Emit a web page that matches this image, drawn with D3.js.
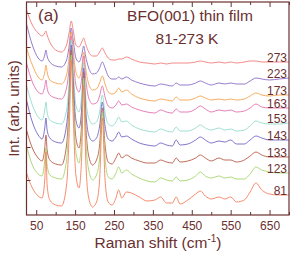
<!DOCTYPE html>
<html lang="en">
<head>
<meta charset="UTF-8">
<title>BFO(001) thin film Raman spectra</title>
<script src="https://d3js.org/d3.v7.min.js"></script>
<style>
  body { margin: 0; background: #fff; }
  svg text { font-family: 'Liberation Sans', Arial, sans-serif; fill: #6b2f2f; }
  .trace { fill: none; stroke-width: 0.9; stroke-linejoin: round; }
  .axis line { stroke: #6b2f2f; stroke-width: 1; }
  .axis path { display: none; }
  .axis text { font-size: 12px; }
</style>
</head>
<body>
<svg id="chart" width="291" height="257"></svg>
<script>
// Raman shift sample positions (cm-1), shared by every spectrum
const shift = [25, 40, 55, 65, 72, 75, 78, 85, 100, 115,
  128, 135, 140, 145, 152, 160, 167, 172, 177, 185,
  195, 205, 213, 220, 227, 235, 245, 255, 262, 270,
  282, 295, 315, 335, 355, 370, 385, 400, 410, 420,
  440, 460, 472, 485, 500, 520, 535, 550, 565, 585,
  600, 615, 630, 650, 675, 700];

// intensities (arb. units, already stacked with offsets)
const int273 = [205,190,182,179,182,184,180,173,165,163, 170,183,194,185,170,168,173,177,171,163,
  159,159,163,167,162,157,155,155,156,156, 158,156,153,152,151,152,151,152,152,152,
  152,153,154,153,152,153,152,153,152,153, 154,154,153,153,153,153];
const int223 = [191,170,157,154,160,165,159,153,149,148, 155,170,187,175,157,153,160,169,159,147,
  141,142,147,153,147,139,136,136,138,136, 138,135,132,130,129,131,130,129,132,130,
  130,132,134,132,130,132,131,132,131,131, 134,137,136,135,136,137];
const int173 = [167,150,138,135,143,150,143,135,132,131, 140,160,183,165,143,137,147,163,147,131,
  125,126,132,139,131,123,121,123,127,123, 125,121,117,115,114,116,115,114,118,115,
  115,117,119,117,115,116,115,116,115,116, 119,122,120,119,120,120];
const int163 = [152,133,123,121,129,135,127,120,117,116, 127,150,179,157,130,123,137,159,137,117,
  111,112,119,129,118,109,107,110,114,110, 111,108,105,103,102,105,103,102,106,103,
  103,106,109,106,103,105,104,105,103,104, 107,111,108,107,107,107];
const int153 = [130,110,98,95,105,113,103,95,92,91, 105,135,175,145,110,103,120,153,120,97,
  91,93,103,120,102,91,89,93,98,93, 94,90,86,84,83,86,84,83,88,84,
  84,87,90,87,85,87,85,86,84,85, 89,94,92,91,91,92];
const int143 = [115,93,80,76,87,97,85,77,73,72, 90,125,170,135,95,87,107,147,107,80,
  74,77,89,113,89,76,74,78,83,78, 79,76,72,70,69,72,70,69,75,70,
  71,75,78,75,72,74,73,75,71,71, 75,79,77,75,75,75];
const int133 = [85,67,57,54,67,80,65,55,51,50, 70,115,165,125,77,67,93,143,93,59,
  50,55,70,107,70,53,51,57,62,57, 60,57,54,52,52,55,53,52,57,53,
  54,57,60,57,54,57,55,55,53,55, 59,63,60,58,58,58];
const int123 = [69,50,41,39,55,67,50,40,37,36, 55,105,160,115,63,52,80,137,80,45,
  35,40,57,103,57,38,36,42,48,42, 45,41,37,34,33,37,35,34,38,34,
  35,39,43,39,37,39,37,38,36,36, 41,48,45,43,42,42];
const int81 = [42,27,19,17,35,63,30,15,10,9, 30,85,155,100,40,27,60,130,60,17,
  8,13,35,97,35,13,10,17,25,17, 23,22,18,14,15,18,12,12,18,11,
  15,21,24,19,16,18,16,18,13,15, 23,32,25,21,20,20];

const temps = ["273", "223", "173", "163", "153", "143", "133", "123", "81"];
const spectra = [int273, int223, int173, int163, int153, int143, int133, int123, int81];
const colors = ["#f47c7c", "#8b6cc7", "#f6a34f", "#e46fb0", "#94dccb",
  "#7266c4", "#b95b47", "#a6d56b", "#f5805e"];

const majorTicks = [50, 150, 250, 350, 450, 550, 650];
const minorTicks = [100, 200, 300, 400, 500, 600, 700];
const yTicks = [35, 68, 102, 135, 168, 202];

const margin = { top: 2, right: 2, bottom: 42, left: 26.5 };
const width = 291, height = 257;
const x0 = margin.left, x1 = width - margin.right;
const y0 = margin.top, y1 = height - margin.bottom;

const svg = d3.select("#chart");

const x = d3.scaleLinear().domain([25, 700]).range([x0, x1]);
const y = d3.scaleLinear().domain([0, 213]).range([y1, y0]);

svg.append("clipPath").attr("id", "plot-clip")
  .append("rect")
  .attr("x", x0).attr("y", y0)
  .attr("width", x1 - x0).attr("height", y1 - y0);

// spectra
const line = d3.line()
  .x((d, i) => x(shift[i]))
  .y(d => y(d))
  .curve(d3.curveMonotoneX);

svg.append("g").attr("clip-path", "url(#plot-clip)")
  .selectAll("path")
  .data(spectra)
  .join("path")
  .attr("class", "trace")
  .attr("stroke", (d, i) => colors[i])
  .attr("d", line);

// temperature labels at the right end of each spectrum
svg.append("g")
  .selectAll("text")
  .data(spectra)
  .join("text")
  .attr("x", x1 - 2)
  .attr("y", d => y(d[d.length - 1]))
  .attr("text-anchor", "end")
  .style("font-size", "12px")
  .text((d, i) => temps[i]);

// axes with inward ticks
svg.append("g").attr("class", "axis")
  .attr("transform", `translate(0,${y1})`)
  .call(d3.axisBottom(x).tickValues(majorTicks).tickSize(-5).tickPadding(6));
svg.append("g").attr("class", "axis")
  .attr("transform", `translate(0,${y1})`)
  .call(d3.axisBottom(x).tickValues(minorTicks).tickSize(-3).tickFormat(""));
svg.append("g").attr("class", "axis")
  .attr("transform", `translate(0,${y0})`)
  .call(d3.axisTop(x).tickValues(majorTicks).tickSize(-5).tickFormat(""));
svg.append("g").attr("class", "axis")
  .attr("transform", `translate(0,${y0})`)
  .call(d3.axisTop(x).tickValues(minorTicks).tickSize(-3).tickFormat(""));
svg.append("g").attr("class", "axis")
  .attr("transform", `translate(${x0},0)`)
  .call(d3.axisLeft(y).tickValues(yTicks).tickSize(-4).tickFormat(""));

// frame
svg.append("rect")
  .attr("x", x0).attr("y", y0)
  .attr("width", x1 - x0).attr("height", y1 - y0)
  .attr("fill", "none")
  .attr("stroke", "#6b2f2f")
  .attr("stroke-width", 1.2);

// titles
svg.append("text").attr("x", 38).attr("y", 21)
  .style("font-size", "17px").text("(a)");
svg.append("text").attr("x", 190).attr("y", 21)
  .attr("text-anchor", "middle").style("font-size", "15.5px")
  .text("BFO(001) thin film");
svg.append("text").attr("x", 187).attr("y", 44)
  .attr("text-anchor", "middle").style("font-size", "15.5px")
  .text("81-273 K");

const xl = svg.append("text")
  .attr("x", 158).attr("y", 248)
  .attr("text-anchor", "middle").style("font-size", "15.5px");
xl.append("tspan").text("Raman shift (cm");
xl.append("tspan").attr("dy", -6).style("font-size", "10px").text("-1");
xl.append("tspan").attr("dy", 6).text(")");

svg.append("text")
  .attr("transform", `translate(19,${(y0 + y1) / 2}) rotate(-90)`)
  .attr("text-anchor", "middle").style("font-size", "15px")
  .text("Int. (arb. units)");
</script>
</body>
</html>
